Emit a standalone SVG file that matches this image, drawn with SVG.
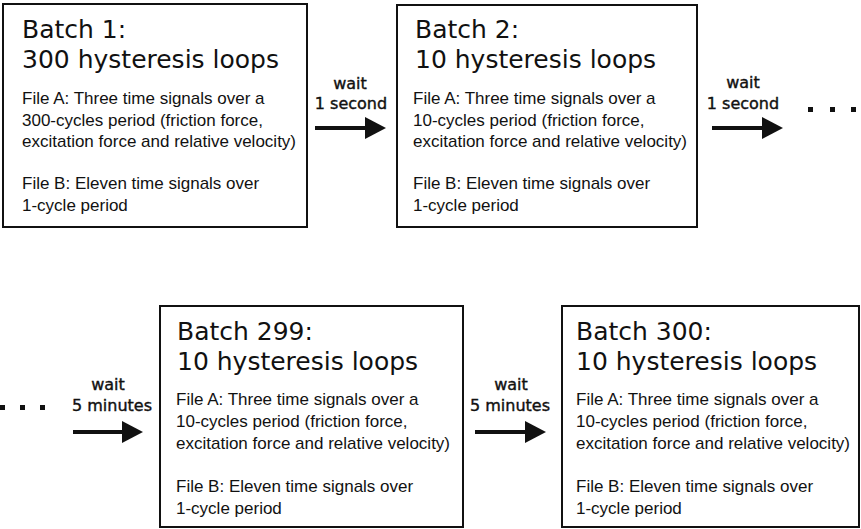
<svg xmlns="http://www.w3.org/2000/svg" width="861" height="529" viewBox="0 0 861 529">
<style>
.box{fill:#fff;stroke:#111;stroke-width:2}
.title{font-family:"DejaVu Sans",sans-serif;font-size:25px;fill:#111}
.body{font-family:"Liberation Sans",Arial,sans-serif;font-size:17px;fill:#111}
.lbl{font-family:"DejaVu Sans",sans-serif;font-size:16px;fill:#111;stroke:#111;stroke-width:0.4;text-anchor:middle}
.arr{stroke:#111;stroke-width:4;fill:none;marker-end:url(#ah)}
.dot{fill:#111}
</style>
<defs>
<marker id="ah" markerUnits="userSpaceOnUse" markerWidth="22" markerHeight="24" refX="0" refY="11" orient="auto" viewBox="0 0 22 22">
<path d="M0,0 L21,11 L0,22 z" fill="#111"/>
</marker>
</defs>
<rect width="861" height="529" fill="#fff"/>
<g id="batch1">
<rect class="box" x="3" y="4" width="304" height="223"/>
<text class="title" x="22" y="38">Batch 1:</text>
<text class="title" x="22" y="68">300 hysteresis loops</text>
<text class="body" x="22" y="104">File A: Three time signals over a</text>
<text class="body" x="22" y="125.5">300-cycles period (friction force,</text>
<text class="body" x="22" y="147">excitation force and relative velocity)</text>
<text class="body" x="22" y="189">File B: Eleven time signals over</text>
<text class="body" x="22" y="211">1-cycle period</text>
</g>
<g id="batch2">
<rect class="box" x="397" y="5" width="300" height="222"/>
<text class="title" x="415" y="38">Batch 2:</text>
<text class="title" x="415" y="68">10 hysteresis loops</text>
<text class="body" x="413" y="104">File A: Three time signals over a</text>
<text class="body" x="413" y="125.5">10-cycles period (friction force,</text>
<text class="body" x="413" y="147">excitation force and relative velocity)</text>
<text class="body" x="413" y="189">File B: Eleven time signals over</text>
<text class="body" x="413" y="211">1-cycle period</text>
</g>
<g id="batch299">
<rect class="box" x="160" y="306" width="303" height="221"/>
<text class="title" x="177" y="340">Batch 299:</text>
<text class="title" x="177" y="370">10 hysteresis loops</text>
<text class="body" x="176" y="405">File A: Three time signals over a</text>
<text class="body" x="176" y="427">10-cycles period (friction force,</text>
<text class="body" x="176" y="449">excitation force and relative velocity)</text>
<text class="body" x="176" y="492">File B: Eleven time signals over</text>
<text class="body" x="176" y="514">1-cycle period</text>
</g>
<g id="batch300">
<rect class="box" x="562" y="306" width="297" height="221"/>
<text class="title" x="576" y="340">Batch 300:</text>
<text class="title" x="576" y="370">10 hysteresis loops</text>
<text class="body" x="576" y="405">File A: Three time signals over a</text>
<text class="body" x="576" y="427">10-cycles period (friction force,</text>
<text class="body" x="576" y="449">excitation force and relative velocity)</text>
<text class="body" x="576" y="492">File B: Eleven time signals over</text>
<text class="body" x="576" y="514">1-cycle period</text>
</g>
<g id="connectors">
<line class="arr" x1="315" y1="128" x2="365" y2="128"/>
<text class="lbl" x="350" y="89">wait</text>
<text class="lbl" x="351" y="109">1 second</text>
<line class="arr" x1="712" y1="128" x2="762" y2="128"/>
<text class="lbl" x="743" y="88">wait</text>
<text class="lbl" x="743" y="109">1 second</text>
<line class="arr" x1="73" y1="432" x2="122" y2="432"/>
<text class="lbl" x="108" y="390">wait</text>
<text class="lbl" x="112" y="411">5 minutes</text>
<line class="arr" x1="475" y1="432" x2="525" y2="432"/>
<text class="lbl" x="511" y="390">wait</text>
<text class="lbl" x="510" y="411">5 minutes</text>
</g>
<g id="ellipsis">
<rect class="dot" x="808" y="107" width="5" height="5"/>
<rect class="dot" x="830" y="107" width="5" height="5"/>
<rect class="dot" x="851" y="107" width="5" height="5"/>
<rect class="dot" x="0" y="405" width="5" height="5"/>
<rect class="dot" x="20" y="405" width="5" height="5"/>
<rect class="dot" x="40" y="405" width="5" height="5"/>
</g>
</svg>
